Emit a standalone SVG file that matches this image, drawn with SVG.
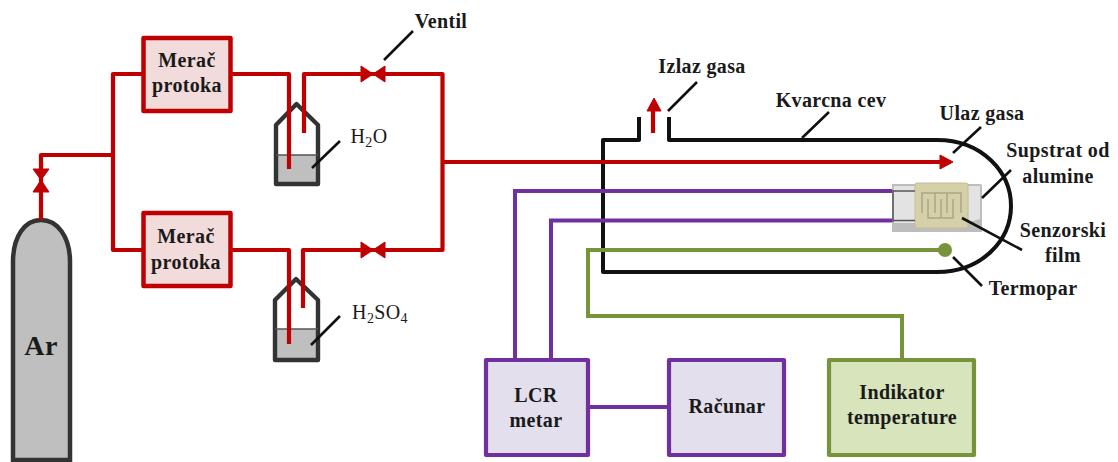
<svg xmlns="http://www.w3.org/2000/svg" width="1118" height="462" viewBox="0 0 1118 462">
<style>
text{font-family:"Liberation Serif","Times New Roman",serif;font-size:20px;font-weight:bold;fill:#1a1a1a;text-anchor:middle;letter-spacing:.35px}
.n{font-weight:normal}
.red{fill:none;stroke:#c00000;stroke-width:4.2;stroke-linejoin:round}
.pur{fill:none;stroke:#7030a0;stroke-width:4}
.grn{fill:none;stroke:#77933c;stroke-width:4}
.lead{fill:none;stroke:#111;stroke-width:2.6}
.tube{fill:none;stroke:#111;stroke-width:4;stroke-linejoin:round}
.bottle{fill:none;stroke:#333;stroke-width:4.4;stroke-linejoin:round}
.valve{fill:#c00000;stroke:#c00000;stroke-width:1;stroke-linejoin:round}
.liq{fill:#bfbfbf}
.meter{fill:#f2dcdb;stroke:#c00000;stroke-width:4.5;stroke-linejoin:round}
.lcr{fill:#e4dfec;stroke:#7030a0;stroke-width:4.2;stroke-linejoin:round}
.ind{fill:#d8e4bc;stroke:#77933c;stroke-width:4.2;stroke-linejoin:round}
</style>
<g id="cylinder"><path d="M13 460V262C13 236 25 220 41 220C57 220 70 236 70 262V460Z" fill="#bfbfbf" stroke="#333" stroke-width="4.5"/><text x="41" y="355" style="font-size:28px">Ar</text></g>
<g id="bottle-h2o"><rect class="liq" x="276" y="155" width="42" height="29"/><path class="bottle" d="M276 125L296.500 104L318 125V184H276Z"/><path d="M276 155H318" stroke="#555" stroke-width="1.5"/><text class="n" x="369" y="143">H<tspan dy="4" font-size="14">2</tspan><tspan dy="-4">O</tspan></text></g>
<g id="bottle-h2so4"><rect class="liq" x="275" y="329" width="43" height="31"/><path class="bottle" d="M275 300L296 279L318 300V360H275Z"/><path d="M275 329H318" stroke="#555" stroke-width="1.5"/><text class="n" x="380" y="319">H<tspan dy="4" font-size="14">2</tspan><tspan dy="-4">SO</tspan><tspan dy="4" font-size="14">4</tspan></text></g>
<g id="tube"><path class="tube" d="M639 117V140H603V272H937C982 272 1011 240 1011 206C1011 172 982 140 937 140H669V117"/></g>
<g id="connectors">
<path class="red" d="M41 220V155H113M113 155V74H143M113 155V250H143"/>
<path class="red" d="M231 74H289V169M304 133V74H442.500V250H303V308M231 250H289V344M442.500 162H941"/>
<path class="red" d="M653 133V108"/>
<path class="pur" d="M515 360V191H895M551 360V220.500H895M588 407H669"/>
<path class="grn" d="M902 360V316H588V250H945"/>
</g>
<g id="valve-ar"><path class="valve" d="M33 169H49L41 180L49 192H33L41 180Z"/></g>
<g id="valve-top"><path class="valve" d="M361 66V82L373 74ZM385 66V82L373 74Z"/></g>
<g id="valve-bottom"><path class="valve" d="M361 242V258L373 250ZM385 242V258L373 250Z"/></g>
<g id="arrow-in"><path class="valve" d="M940 155V169L953 162Z"/></g>
<g id="arrow-out"><path class="valve" d="M654 98L647 111H661Z"/></g>
<g id="meter-top"><rect class="meter" x="143.500" y="38" width="87" height="73"/><text x="187" y="67">Merač</text><text x="187" y="92">protoka</text></g>
<g id="meter-bottom"><rect class="meter" x="143.500" y="213" width="87" height="73"/><text x="186" y="243">Merač</text><text x="186" y="269">protoka</text></g>
<g id="sensor">
<path d="M892 184H980Q982 184 982 186V232H892Z" fill="#bdbdbd"/>
<path d="M894 186H980V219L966 223H894Z" fill="#e3e3e3"/>
<rect x="915" y="183" width="53" height="45" rx="2" fill="#d6d0a8" stroke="#c4bd92"/>
<path d="M922 213V193H961V213M935 193V213M947 193V213M928 199V218H953V199M941 199V218" fill="none" stroke="#aaa585" stroke-width="1.5"/>
<path d="M893 190V222M893 191H915M893 220.500H915" fill="none" stroke="#555" stroke-width="1.5"/>
<circle cx="945" cy="250" r="7" fill="#77933c"/>
</g>
<g id="lcr"><rect class="lcr" x="486" y="360" width="102" height="95"/><text x="536" y="402">LCR</text><text x="536" y="427">metar</text></g>
<g id="racunar"><rect class="lcr" x="669" y="360" width="115" height="95"/><text x="727" y="413">Računar</text></g>
<g id="indikator"><rect class="ind" x="829" y="360" width="145" height="95"/><text x="902" y="399">Indikator</text><text x="902" y="424">temperature</text></g>
<g id="leaders">
<path class="lead" d="M384 60L413 31M312 168L340 141M311 345L340 316M668 111L697 82M802 138L829 112M953 153L981 127M982 198L1011 170M962 218L1022 250M953 257L982 286"/>
</g>
<g id="labels">
<text x="441" y="28">Ventil</text>
<text x="702" y="73">Izlaz gasa</text>
<text x="831" y="107">Kvarcna cev</text>
<text x="982" y="120">Ulaz gasa</text>
<text x="1058" y="157">Supstrat od</text>
<text x="1058" y="183">alumine</text>
<text x="1063" y="237">Senzorski</text>
<text x="1063" y="262">film</text>
<text x="1033" y="295">Termopar</text>
</g>
</svg>
